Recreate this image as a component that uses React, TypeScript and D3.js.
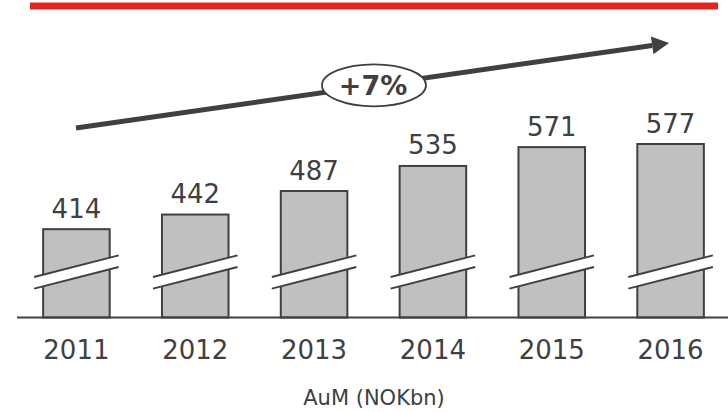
import React from "react";
import * as d3 from "d3";

const years = ["2011", "2012", "2013", "2014", "2015", "2016"];
const aum = [414, 442, 487, 535, 571, 577];
const axisTitle = "AuM (NOKbn)";
const breakValue = 245;

const W = 728;
const H = 412;
const DARK = "#404040";
const FONT = "'DejaVu Sans', Verdana, sans-serif";

export default function App() {
  const x = d3.scaleBand<string>().domain(years).range([17, 730]).paddingInner(0.44).paddingOuter(0.22);
  const y = d3.scaleLinear().domain([breakValue, d3.max(aum) as number]).range([317.5, 144]);
  const base = y(breakValue);
  const cagr = Math.pow(aum[aum.length - 1] / aum[0], 1 / (aum.length - 1)) - 1;
  const cagrLabel = `+${Math.round(cagr * 100)}%`;

  // break band geometry
  const slope = -0.256;
  const bandMid = 272;
  const gapHalf = 5.8;
  const ext = 9;

  const ax0 = 76, ay0 = 128, ax1 = 669, ay1 = 43;
  const ang = Math.atan2(ay1 - ay0, ax1 - ax0);
  const headLen = 17, headW = 9;
  const bx = ax1 - headLen * Math.cos(ang), by = ay1 - headLen * Math.sin(ang);
  const px = -Math.sin(ang), py = Math.cos(ang);
  const ellCx = 374;
  const ellCy = ay0 + ((ellCx - ax0) / (ax1 - ax0)) * (ay1 - ay0);

  return (
    <svg width={W} height={H} style={{ position: "absolute", left: 0, top: 0, background: "#fff" }} fontFamily={FONT}>
      <rect x={30} y={2.5} width={688} height={7} fill="#e2261d" />
      {years.map((yr, i) => {
        const bx0 = x(yr) as number;
        const bw = x.bandwidth();
        const cx = bx0 + bw / 2;
        const top = y(aum[i]);
        const lx0 = bx0 - ext, lx1 = bx0 + bw + ext;
        const yAt = (xx: number, off: number) => bandMid + off + slope * (xx - cx);
        return (
          <g key={yr}>
            <rect x={bx0} y={top} width={bw} height={base - top} fill="#c0c0c0" stroke={DARK} strokeWidth={2} />
            <polygon
              points={`${lx0},${yAt(lx0, -gapHalf)} ${lx1},${yAt(lx1, -gapHalf)} ${lx1},${yAt(lx1, gapHalf)} ${lx0},${yAt(lx0, gapHalf)}`}
              fill="#fff"
            />
            <line x1={lx0} y1={yAt(lx0, -gapHalf)} x2={lx1} y2={yAt(lx1, -gapHalf)} stroke={DARK} strokeWidth={2} />
            <line x1={lx0} y1={yAt(lx0, gapHalf)} x2={lx1} y2={yAt(lx1, gapHalf)} stroke={DARK} strokeWidth={2} />
            <text x={cx} y={top - 11.5} textAnchor="middle" fontSize={26} fill={DARK}>{aum[i]}</text>
            <text x={cx} y={358.5} textAnchor="middle" fontSize={26} fill={DARK}>{yr}</text>
          </g>
        );
      })}
      <line x1={17} y1={base} x2={728} y2={base} stroke={DARK} strokeWidth={2} />
      <text x={374} y={404.5} textAnchor="middle" fontSize={21} fill={DARK}>{axisTitle}</text>

      <line x1={ax0} y1={ay0} x2={bx} y2={by} stroke={DARK} strokeWidth={5} />
      <polygon points={`${ax1},${ay1} ${bx + px * headW},${by + py * headW} ${bx - px * headW},${by - py * headW}`} fill={DARK} />
      <ellipse cx={ellCx} cy={ellCy} rx={52} ry={21} fill="#fff" stroke={DARK} strokeWidth={1.8} />
      <text x={ellCx - 1} y={ellCy + 10} textAnchor="middle" fontSize={27} fontWeight="bold" fill={DARK}>{cagrLabel}</text>
    </svg>
  );
}
